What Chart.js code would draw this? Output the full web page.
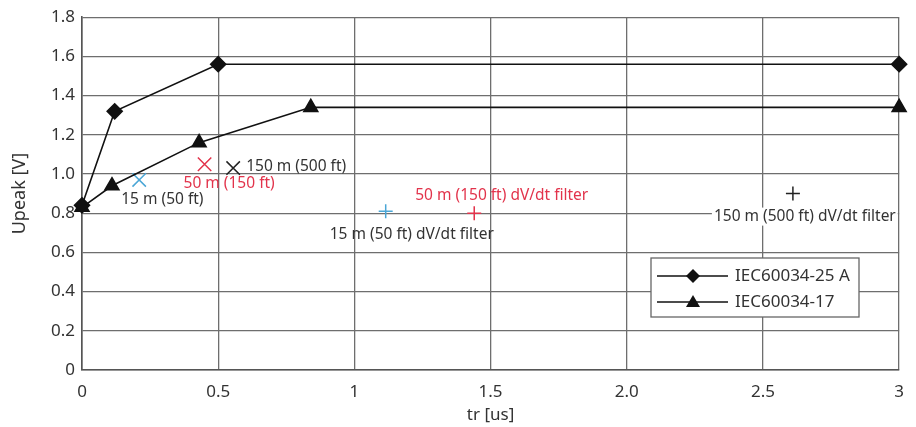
<!DOCTYPE html>
<html lang="en">
<head>
    <meta charset="UTF-8">
    <title>Upeak vs tr</title>
    <script src="https://cdn.jsdelivr.net/npm/chart.js"></script>
    <style>
        html, body { margin: 0; padding: 0; background: #fff; }
        #wrap { width: 916px; height: 427px; }
    </style>
</head>
<body>
    <div id="wrap"><canvas id="grafico" width="916" height="427"></canvas></div>

    <script>
        // tick labels
        const xTickLabels = ['0', '0.5', '1', '1.5', '2.0', '2.5', '3'];
        const yTickLabels = ['0', '0.2', '0.4', '0.6', '0.8', '1.0', '1.2', '1.4', '1.6', '1.8'];

        // limit curves
        const trA = [0, 0.12, 0.5, 3];
        const upA = [0.84, 1.32, 1.56, 1.56];
        const tr17 = [0, 0.11, 0.43, 0.84, 3];
        const up17 = [0.83, 0.94, 1.16, 1.34, 1.34];

        // measured points, no filter
        const cableLabels = ['15 m (50 ft)', '50 m (150 ft)', '150 m (500 ft)'];
        const cableTr = [0.21, 0.45, 0.555];
        const cableUp = [0.97, 1.05, 1.03];

        // measured points, with dV/dt filter
        const filterLabels = ['15 m (50 ft) dV/dt filter', '50 m (150 ft) dV/dt filter', '150 m (500 ft) dV/dt filter'];
        const filterTr = [1.115, 1.44, 2.61];
        const filterUp = [0.81, 0.80, 0.90];

        const pointColors = ['#4aa6d6', '#e2334b', '#222'];
        const textColors = ['#333', '#e2334b', '#333'];
        const FONT = '"Noto Sans", sans-serif';

        const toXY = (xs, ys) => xs.map((x, i) => ({ x: x, y: ys[i] }));

        // text next to the measured points (pixel offsets from the marker)
        const labelPlugin = {
            id: 'pointLabels',
            afterDatasetsDraw(chart) {
                const ctx = chart.ctx;
                ctx.save();
                ctx.font = '15.5px ' + FONT;
                ctx.textBaseline = 'middle';
                const cab = chart.getDatasetMeta(2).data;
                const fil = chart.getDatasetMeta(3).data;
                const cabOff = [[-18, 20, 'left'], [-21, 19, 'left'], [13, -2, 'left']];
                const filOff = [[-56, 23, 'left'], [-59, -18, 'left'], [-79, 23, 'left']];
                cab.forEach((p, i) => {
                    ctx.fillStyle = textColors[i];
                    ctx.textAlign = cabOff[i][2];
                    ctx.fillText(cableLabels[i], p.x + cabOff[i][0], p.y + cabOff[i][1]);
                });
                fil.forEach((p, i) => {
                    const tx = p.x + filOff[i][0], ty = p.y + filOff[i][1];
                    if (i === 2) {
                        const w = ctx.measureText(filterLabels[i]).width;
                        ctx.fillStyle = '#fff';
                        ctx.fillRect(tx - 2, ty - 9, w + 4, 18);
                    }
                    ctx.fillStyle = textColors[i];
                    ctx.textAlign = 'left';
                    ctx.fillText(filterLabels[i], tx, ty);
                });
                ctx.restore();
            }
        };

        // boxed legend with line + marker samples
        const legendPlugin = {
            id: 'boxLegend',
            afterDraw(chart) {
                const ctx = chart.ctx;
                const x0 = 651, y0 = 258, w = 208, h = 59;
                ctx.save();
                ctx.fillStyle = '#fff';
                ctx.fillRect(x0, y0, w, h);
                ctx.strokeStyle = '#666';
                ctx.lineWidth = 1.3;
                ctx.strokeRect(x0, y0, w, h);
                const rows = [
                    { y: y0 + 18, label: chart.data.datasets[0].label, shape: 'diamond' },
                    { y: y0 + 44, label: chart.data.datasets[1].label, shape: 'triangle' }
                ];
                rows.forEach(r => {
                    ctx.strokeStyle = '#111';
                    ctx.lineWidth = 1.5;
                    ctx.beginPath();
                    ctx.moveTo(x0 + 6, r.y);
                    ctx.lineTo(x0 + 77, r.y);
                    ctx.stroke();
                    const cx = x0 + 42;
                    ctx.fillStyle = '#111';
                    ctx.beginPath();
                    if (r.shape === 'diamond') {
                        ctx.moveTo(cx, r.y - 7); ctx.lineTo(cx + 7, r.y);
                        ctx.lineTo(cx, r.y + 7); ctx.lineTo(cx - 7, r.y);
                    } else {
                        ctx.moveTo(cx, r.y - 7); ctx.lineTo(cx + 7, r.y + 5);
                        ctx.lineTo(cx - 7, r.y + 5);
                    }
                    ctx.closePath();
                    ctx.fill();
                    ctx.fillStyle = '#333';
                    ctx.font = '17px ' + FONT;
                    ctx.textBaseline = 'middle';
                    ctx.textAlign = 'left';
                    ctx.fillText(r.label, x0 + 84, r.y);
                });
                ctx.restore();
            }
        };

        new Chart(document.getElementById('grafico').getContext('2d'), {
            type: 'scatter',
            data: {
                datasets: [
                    {
                        label: 'IEC60034-25 A',
                        data: toXY(trA, upA),
                        showLine: true,
                        borderColor: '#111',
                        backgroundColor: '#111',
                        borderWidth: 1.6,
                        pointStyle: 'rectRot',
                        pointRadius: 7.5,
                        clip: false
                    },
                    {
                        label: 'IEC60034-17',
                        data: toXY(tr17, up17),
                        showLine: true,
                        borderColor: '#111',
                        backgroundColor: '#111',
                        borderWidth: 1.6,
                        pointStyle: 'triangle',
                        pointRadius: 8,
                        clip: false
                    },
                    {
                        label: 'cable',
                        data: toXY(cableTr, cableUp),
                        showLine: false,
                        pointStyle: 'crossRot',
                        pointRadius: 9.5,
                        pointBorderColor: pointColors,
                        pointBorderWidth: 1.5
                    },
                    {
                        label: 'filter',
                        data: toXY(filterTr, filterUp),
                        showLine: false,
                        pointStyle: 'cross',
                        pointRadius: 7,
                        pointBorderColor: pointColors,
                        pointBorderWidth: 1.5
                    }
                ]
            },
            options: {
                responsive: false,
                animation: false,
                layout: { padding: { top: 15, right: 15, left: 0, bottom: 0 } },
                plugins: { legend: { display: false }, tooltip: { enabled: false } },
                scales: {
                    x: {
                        type: 'linear',
                        min: 0,
                        max: 3,
                        afterFit: s => { s.height = 57; },
                        afterBuildTicks: s => { s.ticks = xTickLabels.map((t, i) => ({ value: i * 0.5 })); },
                        ticks: {
                            padding: 12,
                            color: '#333',
                            font: { family: FONT, size: 17 },
                            callback: (v, i) => xTickLabels[i]
                        },
                        grid: { color: '#6e6e6e', lineWidth: 1.3, drawTicks: false },
                        border: { color: '#555', width: 1.6 },
                        title: {
                            display: true,
                            text: 'tr [us]',
                            color: '#333',
                            font: { family: FONT, size: 17 },
                            padding: { top: 0, bottom: 2 }
                        }
                    },
                    y: {
                        min: 0,
                        max: 1.8,
                        afterFit: s => { s.width = 82; },
                        afterBuildTicks: s => { s.ticks = yTickLabels.map((t, i) => ({ value: i * 0.2 })); },
                        ticks: {
                            padding: 7,
                            color: '#333',
                            font: { family: FONT, size: 17 },
                            callback: (v, i) => yTickLabels[i]
                        },
                        grid: { color: '#6e6e6e', lineWidth: 1.3, drawTicks: false },
                        border: { color: '#555', width: 1.6 },
                        title: {
                            display: true,
                            text: 'Upeak [V]',
                            color: '#333',
                            font: { family: FONT, size: 18 },
                            padding: { top: 9, bottom: 0 }
                        }
                    }
                }
            },
            plugins: [labelPlugin, legendPlugin]
        });
    </script>
</body>
</html>
